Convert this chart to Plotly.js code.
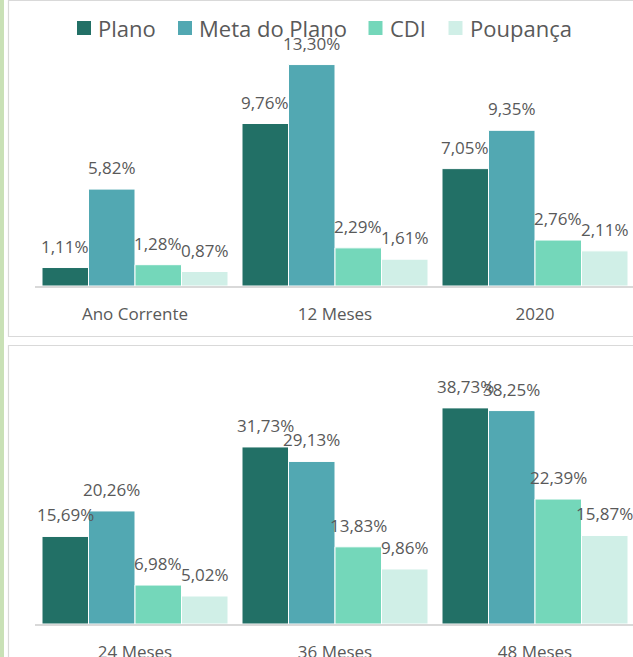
<!DOCTYPE html>
<html>
<head>
<meta charset="utf-8">
<script src="https://cdn.plot.ly/plotly-3.0.1.min.js"></script>
<style>
  html, body { margin: 0; padding: 0; background: #ffffff; }
  #chart { width: 633px; height: 657px; }
</style>
</head>
<body>
<div id="chart"></div>
<script>
// ---- data ----
const seriesNames = ["Plano", "Meta do Plano", "CDI", "Poupança"];
const seriesColors = ["#227066", "#52A8B2", "#74D7BA", "#D0EFE7"];

const topCategories = ["Ano Corrente", "12 Meses", "2020"];
const topPlano = [1.11, 9.76, 7.05];
const topMeta = [5.82, 13.30, 9.35];
const topCDI = [1.28, 2.29, 2.76];
const topPoupanca = [0.87, 1.61, 2.11];

const bottomCategories = ["24 Meses", "36 Meses", "48 Meses"];
const bottomPlano = [15.69, 31.73, 38.73];
const bottomMeta = [20.26, 29.13, 38.25];
const bottomCDI = [6.98, 13.83, 22.39];
const bottomPoupanca = [5.02, 9.86, 15.87];

// ---- layout helpers ----
const W = 633, H = 657;
const px = v => v / W;
const py = v => 1 - v / H;
const textColor = "#595959";
const fontFamily = "'Open Sans', 'Noto Sans', sans-serif";
const BARGAP = 0.07;

const topSeries = [topPlano, topMeta, topCDI, topPoupanca];
const bottomSeries = [bottomPlano, bottomMeta, bottomCDI, bottomPoupanca];

const traces = [];
const annotations = [];
const fmt = v => v.toFixed(2).replace(".", ",") + "%";
const slot = (1 - BARGAP) / seriesNames.length;

function addPanel(cats, series, xa, ya) {
  series.forEach((vals, s) => {
    traces.push({
      type: "bar",
      x: cats,
      y: vals,
      name: seriesNames[s],
      xaxis: xa, yaxis: ya,
      marker: { color: seriesColors[s], line: { color: "#ffffff", width: 1 } },
      showlegend: false,
      hoverinfo: "skip"
    });
    vals.forEach((v, i) => {
      annotations.push({
        xref: xa, yref: ya,
        x: i + (s - (series.length - 1) / 2) * slot,
        y: v,
        text: fmt(v),
        showarrow: false,
        yanchor: "bottom",
        yshift: 8,
        font: { family: fontFamily, size: 17, color: textColor }
      });
    });
  });
}
addPanel(topCategories, topSeries, "x", "y");
addPanel(bottomCategories, bottomSeries, "x2", "y2");

const shapes = [
  // left green strip
  { type: "rect", xref: "paper", yref: "paper", x0: px(0), x1: px(4), y0: -0.02, y1: 1.02,
    fillcolor: "#C9E1B6", line: { width: 0 }, layer: "below" },
  // panel borders
  { type: "rect", xref: "paper", yref: "paper", x0: px(8.5), x1: 1.02, y0: py(336.5), y1: py(0.5),
    fillcolor: "rgba(0,0,0,0)", line: { color: "#d9d9d9", width: 1.2 }, layer: "below" },
  { type: "rect", xref: "paper", yref: "paper", x0: px(8.5), x1: 1.02, y0: -0.02, y1: py(345.5),
    fillcolor: "rgba(0,0,0,0)", line: { color: "#d9d9d9", width: 1.2 }, layer: "below" }
];

// legend (swatch + label), laid out like the reference
const legendSwatchX = [77, 178, 368.5, 448.5];
seriesNames.forEach((n, s) => {
  const x0 = legendSwatchX[s];
  shapes.push({ type: "rect", xref: "paper", yref: "paper",
    x0: px(x0), x1: px(x0 + 14), y0: py(35), y1: py(21),
    fillcolor: seriesColors[s], line: { width: 0 } });
  annotations.push({ xref: "paper", yref: "paper", x: px(x0 + 19), y: py(28),
    xanchor: "left", yanchor: "middle", text: n, showarrow: false,
    font: { family: fontFamily, size: 22, color: textColor } });
});

const axisX = {
  type: "category",
  domain: [px(35), 1],
  range: [-0.5, 2.49],
  showline: true, linecolor: "#d9d9d9", linewidth: 1.5,
  ticks: "", showgrid: false, zeroline: false,
  tickfont: { family: fontFamily, size: 17, color: textColor },
  ticklabelstandoff: 12,
  fixedrange: true
};
const axisYBase = { visible: false, showgrid: false, zeroline: false, fixedrange: true };

const layout = {
  width: W, height: H,
  margin: { l: 0, r: 0, t: 0, b: 0, pad: 0 },
  paper_bgcolor: "#ffffff", plot_bgcolor: "rgba(0,0,0,0)",
  barmode: "group", bargap: BARGAP, bargroupgap: 0,
  font: { family: fontFamily, color: textColor },
  showlegend: false,
  xaxis: Object.assign({}, axisX, { anchor: "y" }),
  yaxis: Object.assign({}, axisYBase, { domain: [py(286), py(50)], range: [0, 236 / 16.65], anchor: "x" }),
  xaxis2: Object.assign({}, axisX, { anchor: "y2" }),
  yaxis2: Object.assign({}, axisYBase, { domain: [py(624), py(380)], range: [0, 244 / 5.58], anchor: "x2" }),
  shapes: shapes,
  annotations: annotations
};

Plotly.newPlot("chart", traces, layout, { displayModeBar: false, staticPlot: true });
</script>
</body>
</html>
